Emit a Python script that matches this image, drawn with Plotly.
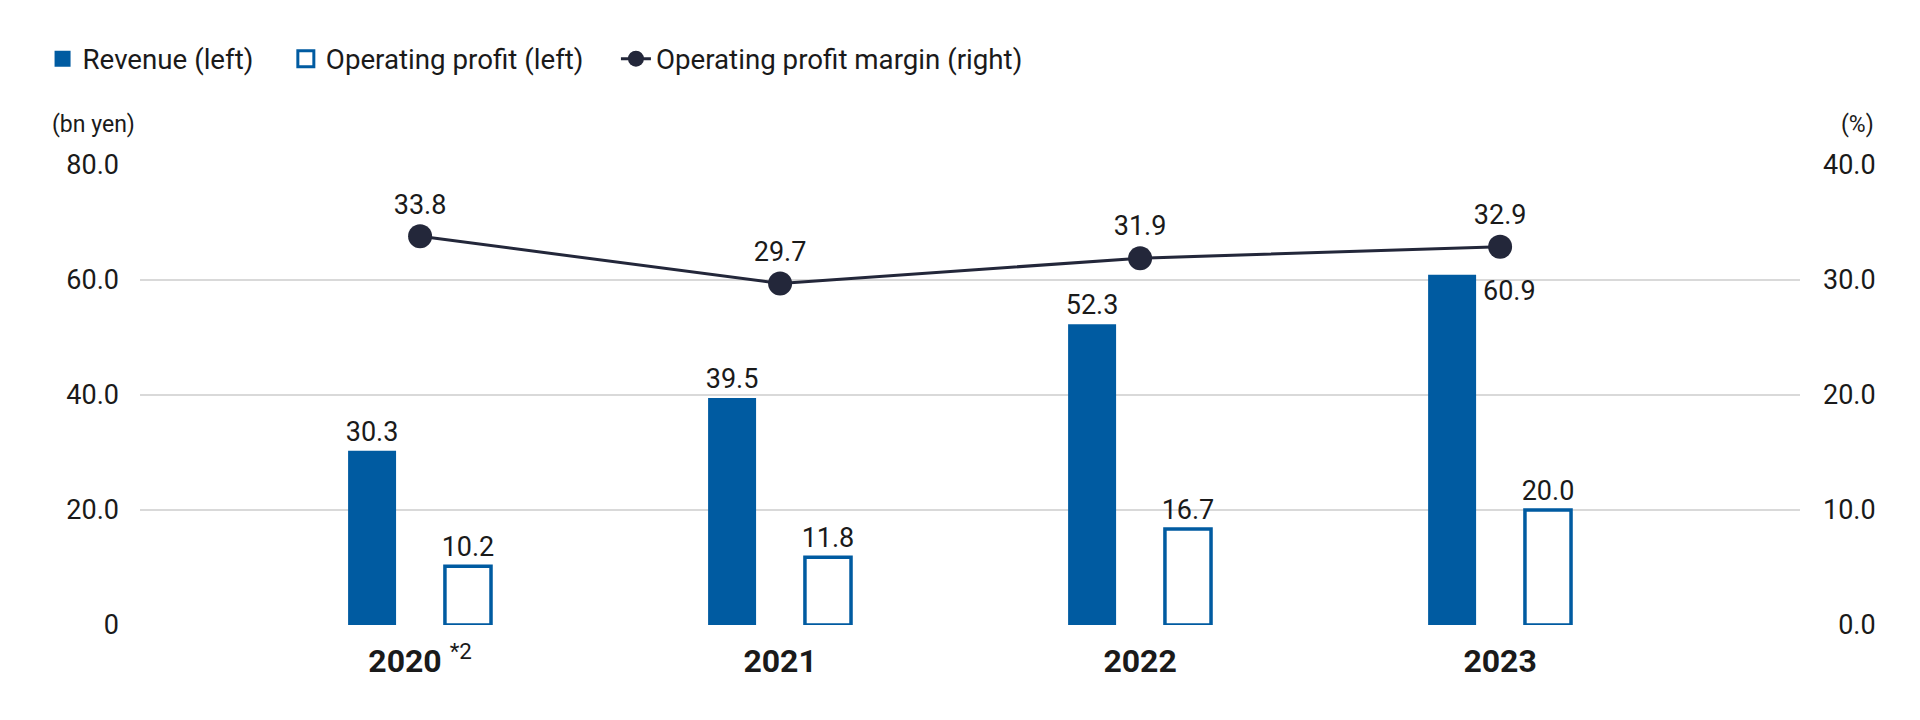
import plotly.graph_objects as go

years = ["2020", "2021", "2022", "2023"]
year_labels = ["<b>2020</b> <sup>*2</sup>", "<b>2021</b>", "<b>2022</b>", "<b>2023</b>"]
revenue = [30.3, 39.5, 52.3, 60.9]
op_profit = [10.2, 11.8, 16.7, 20.0]
op_margin = [33.8, 29.7, 31.9, 32.9]

left_ticks = [0, 20, 40, 60, 80]
left_ticktext = ["0", "20.0", "40.0", "60.0", "80.0"]
right_ticks = [0, 10, 20, 30, 40]
right_ticktext = ["\u20070.0", "10.0", "20.0", "30.0", "40.0"]

BLUE = "#005ba1"
NAVY = "#23273a"
TXT = "#1a1a1a"
FONT = "Roboto"
LBL = 27
PAD = "\u00a0" * 4

rev_text = [f"{v:.1f}" for v in revenue[:-1]] + [""]

fig = go.Figure()
fig.add_trace(go.Bar(
    x=years, y=revenue, name="Revenue (left)", showlegend=False,
    marker=dict(color=BLUE, line=dict(width=0)),
    width=0.1333, offset=-0.2,
    text=rev_text, textposition="outside", constraintext="none",
    textfont=dict(size=LBL, color=TXT, family=FONT), cliponaxis=False,
))
fig.add_trace(go.Bar(
    x=years, y=op_profit, name="Operating profit (left)", showlegend=False,
    marker=dict(color="white", line=dict(color=BLUE, width=3.5)),
    width=0.128, offset=0.069,
    text=[f"{v:.1f}" for v in op_profit], textposition="outside", constraintext="none",
    textfont=dict(size=LBL, color=TXT, family=FONT), cliponaxis=False,
))
fig.add_trace(go.Scatter(
    x=years, y=op_margin, name="Operating profit margin (right)", yaxis="y2",
    mode="lines+markers+text", showlegend=False,
    line=dict(color=NAVY, width=3),
    marker=dict(color=NAVY, size=24),
    text=[f"{v:.1f}" for v in op_margin], textposition="top center",
    textfont=dict(size=LBL, color=TXT, family=FONT), cliponaxis=False,
))

# legend entries (bigger symbols than plotly's bar swatches)
fig.add_trace(go.Scatter(
    x=[None], y=[None], mode="markers", name="Revenue (left)" + PAD,
    marker=dict(symbol="square", size=22, color=BLUE),
))
fig.add_trace(go.Scatter(
    x=[None], y=[None], mode="markers", name="Operating profit (left)" + PAD,
    marker=dict(symbol="square", size=20, color="white", line=dict(color=BLUE, width=3)),
))
fig.add_trace(go.Scatter(
    x=[None], y=[None], mode="lines+markers", name="Operating profit margin (right)",
    line=dict(color=NAVY, width=3), marker=dict(color=NAVY, size=18),
))

# the last revenue label sits to the right of its bar
fig.add_annotation(
    x=years.index("2023"), y=revenue[-1], text=f"{revenue[-1]:.1f}",
    xanchor="left", yanchor="top", xshift=-19, yshift=2, showarrow=False,
    font=dict(size=LBL, color=TXT, family=FONT),
)
fig.add_annotation(
    x=-0.0545, y=1.087, xref="paper", yref="paper", text="(bn yen)",
    xanchor="left", yanchor="middle", showarrow=False,
    font=dict(size=23, color=TXT, family=FONT),
)
fig.add_annotation(
    x=1.0458, y=1.087, xref="paper", yref="paper", text="(%)",
    xanchor="right", yanchor="middle", showarrow=False,
    font=dict(size=23, color=TXT, family=FONT),
)

fig.update_layout(
    width=1920, height=720,
    margin=dict(l=132, r=128, t=157, b=103),
    plot_bgcolor="white", paper_bgcolor="white",
    font=dict(family=FONT, color=TXT, size=LBL),
    barmode="overlay",
    showlegend=True,
    legend=dict(
        orientation="h", xref="container", yref="container",
        x=0.018, y=0.929, xanchor="left", yanchor="middle",
        font=dict(size=27.7, color=TXT, family=FONT),
        traceorder="normal", itemsizing="trace",
    ),
    xaxis=dict(
        type="category", range=[-0.778, 3.833],
        tickvals=years, ticktext=year_labels,
        showgrid=False, zeroline=False, showline=False, ticks="",
        tickfont=dict(size=32, color=TXT, family=FONT),
        ticklabelstandoff=14,
    ),
    yaxis=dict(
        range=[0, 80], tickvals=left_ticks, ticktext=left_ticktext,
        showgrid=True, gridcolor="#d9d9d9", gridwidth=2,
        zeroline=False, showline=False, ticks="",
        tickfont=dict(size=LBL, color=TXT, family=FONT),
        ticklabelstandoff=20,
    ),
    yaxis2=dict(
        range=[0, 40], tickvals=right_ticks, ticktext=right_ticktext,
        overlaying="y", side="right", showgrid=False,
        zeroline=False, showline=False, ticks="",
        tickfont=dict(size=LBL, color=TXT, family=FONT),
        ticklabelstandoff=22,
    ),
)

fig.write_html("out.html")
